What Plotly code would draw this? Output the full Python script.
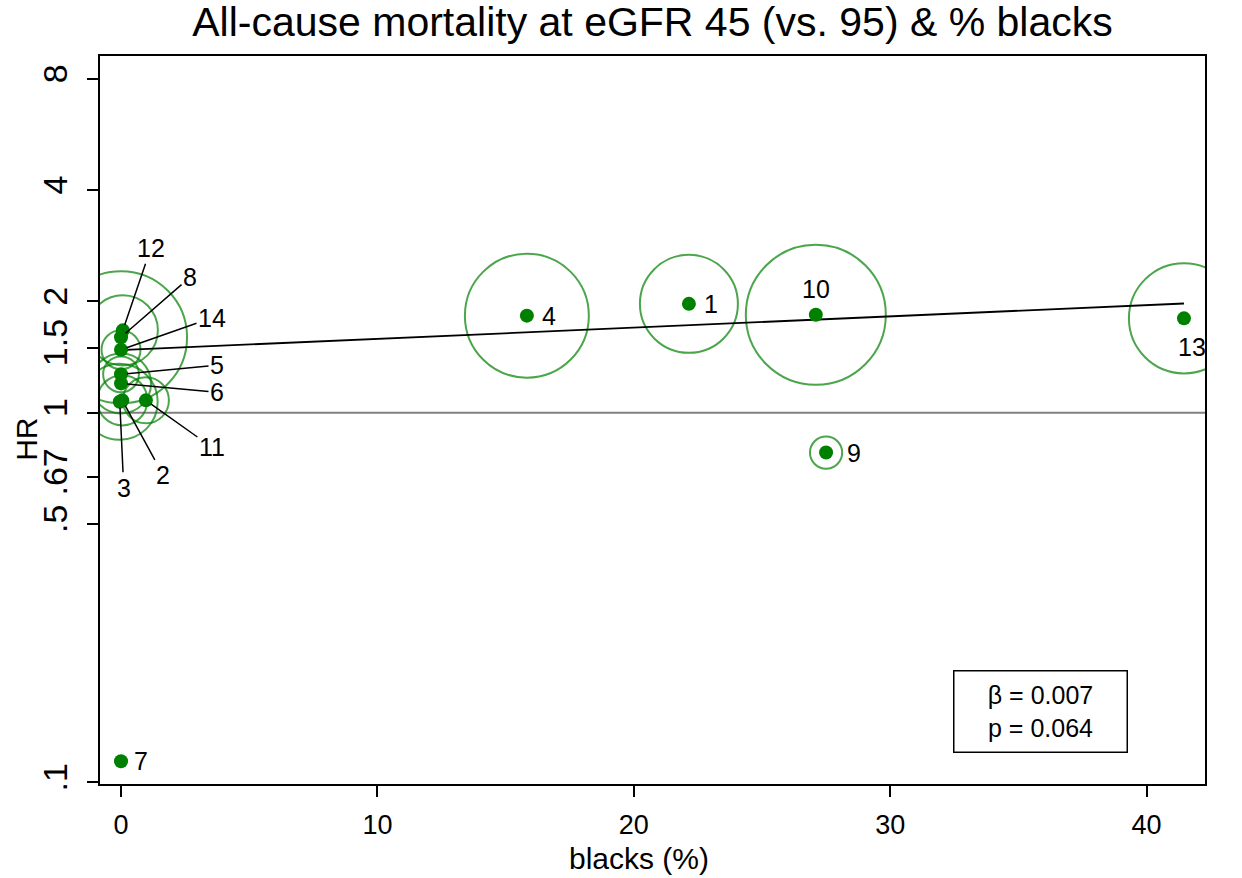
import numpy as np
import plotly.graph_objects as go

# Study-level estimates
study = [1, 2, 3, 4, 5, 6, 7, 8, 9, 10, 11, 12, 13, 14]
blacks_pct = [22.15, 0.05, -0.05, 15.83, 0.0, 0.0, 0.0, 0.0, 27.5, 27.1, 0.97, 0.07, 41.46, 0.0]
hr = [1.97, 1.08, 1.07, 1.83, 1.27, 1.20, 0.114, 1.60, 0.78, 1.84, 1.08, 1.67, 1.80, 1.48]
weight = [24.0, 6.3, 14.4, 38.4, 3.2, 9.0, 0.16, 43.6, 2.6, 49.0, 5.3, 12.3, 30.3, 3.8]

# Meta-regression fit (log HR scale)
beta = 0.007
intercept = 0.39
p_value = 0.064

y_ticks = [0.1, 0.5, 0.67, 1, 1.5, 2, 4, 8]
y_ticktext = [".1", ".5", ".67", "1", "1.5", "2", "4", "8"]
x_ticks = [0, 10, 20, 30, 40]

x_range = [-0.82, 42.28]
y_range = [-1.0046, 0.965]

GREEN = "rgb(0,128,0)"
FONT = "Liberation Sans, Arial, sans-serif"

fig = go.Figure()

# reference line at HR = 1
fig.add_trace(go.Scatter(x=x_range, y=[1, 1], mode="lines",
                         line=dict(color="rgb(128,128,128)", width=2),
                         hoverinfo="skip", showlegend=False))

# weight bubbles
fig.add_trace(go.Scatter(x=blacks_pct, y=hr, mode="markers",
                         marker=dict(size=weight, sizemode="area", sizeref=0.005,
                                     color="rgba(0,0,0,0)",
                                     line=dict(color=GREEN, width=2)),
                         hoverinfo="skip", showlegend=False))

# fitted line
xf = np.array([min(blacks_pct), max(blacks_pct)])
yf = np.exp(intercept + beta * xf)
fig.add_trace(go.Scatter(x=xf, y=yf, mode="lines",
                         line=dict(color="black", width=1.8),
                         hoverinfo="skip", showlegend=False))

# point estimates
fig.add_trace(go.Scatter(x=blacks_pct, y=hr, mode="markers",
                         marker=dict(size=14, color=GREEN),
                         showlegend=False))

# study labels: (dx, dy, leader line)
label_pos = {
    1: (22, 0, False), 4: (22, 0, False), 9: (28, 0, False), 7: (20, 0, False),
    10: (0, -26, False), 13: (8, 29, False),
    12: (28, -82, True), 8: (69, -60, True), 14: (91, -32, True),
    5: (96, -9, True), 6: (96, 9, True), 11: (66, 47, True),
    2: (41, 75, True), 3: (4, 86, True),
}
for s, xv, yv in zip(study, blacks_pct, hr):
    dx, dy, lead = label_pos[s]
    if lead:
        fig.add_annotation(x=xv, y=np.log10(yv), text=str(s), showarrow=True,
                           ax=dx, ay=dy, arrowhead=0, arrowwidth=1.5,
                           arrowcolor="black", standoff=6,
                           font=dict(size=25, color="black", family=FONT))
    else:
        fig.add_annotation(x=xv, y=np.log10(yv), text=str(s), showarrow=False,
                           xshift=dx, yshift=-dy,
                           font=dict(size=25, color="black", family=FONT))

# statistics box
fig.add_annotation(xref="paper", yref="paper", x=0.8507, y=0.0996,
                   xanchor="center", yanchor="middle",
                   text=f"\u03b2 = {beta:.3f}<br>p = {p_value:.3f}",
                   showarrow=False, align="center",
                   width=168, height=76, bordercolor="black", borderwidth=1.5,
                   borderpad=2, bgcolor="white",
                   font=dict(size=25, color="black", family=FONT))

# axis titles
fig.add_annotation(xref="paper", yref="paper", x=0.4878, y=-0.102,
                   xanchor="center", yanchor="middle", showarrow=False,
                   text="blacks (%)", font=dict(size=30, color="black", family=FONT))
fig.add_annotation(xref="paper", yref="paper", x=-0.0665, y=0.4735,
                   xanchor="center", yanchor="middle", showarrow=False,
                   textangle=-90,
                   text="HR", font=dict(size=30, color="black", family=FONT))

fig.update_layout(
    width=1242, height=878, autosize=False,
    margin=dict(l=100, r=37, t=56, b=94),
    paper_bgcolor="white", plot_bgcolor="white",
    font=dict(family=FONT, color="black"),
    title=dict(text="All-cause mortality at eGFR 45 (vs. 95) & % blacks",
               x=0.5, xref="paper", xanchor="center",
               y=0.975, yref="container", yanchor="middle",
               font=dict(size=41, family=FONT, color="black")),
)
fig.update_xaxes(range=x_range, tickvals=x_ticks, ticks="outside", ticklen=11,
                 tickwidth=2, tickcolor="black", showline=True, mirror=True,
                 linecolor="black", linewidth=2, showgrid=False, zeroline=False,
                 tickfont=dict(size=27), ticklabelstandoff=5)
fig.update_yaxes(type="log", range=y_range, tickvals=y_ticks, ticktext=y_ticktext,
                 tickangle=-90, ticks="outside", ticklen=11, tickwidth=2,
                 tickcolor="black", showline=True, mirror=True, linecolor="black",
                 linewidth=2, showgrid=False, zeroline=False,
                 tickfont=dict(size=34), ticklabelstandoff=6)

fig.write_html("out.html")
